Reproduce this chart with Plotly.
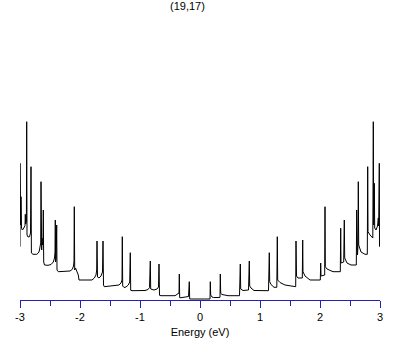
import plotly.graph_objects as go

# Energy (eV) and density of states (arb. units)
energy_neg = [
    -3.0, -3.0, -2.9883, -2.9833, -2.975, -2.9617, -2.945, -2.9167, -2.9117, -2.905,
    -2.8933, -2.8883, -2.8833, -2.8667, -2.8417, -2.825, -2.8167, -2.81, -2.7833, -2.7217,
    -2.695, -2.6783, -2.6667, -2.655, -2.65, -2.645, -2.6383, -2.6333, -2.625, -2.6167,
    -2.6117, -2.605, -2.5917, -2.5333, -2.4833, -2.445, -2.425, -2.4167, -2.4117, -2.4067,
    -2.3967, -2.3883, -2.3833, -2.3617, -2.1667, -2.1283, -2.1083, -2.1, -2.095, -2.0883,
    -2.075, -2.0583, -2.0283, -2.0167, -1.9167, -1.8, -1.7617, -1.7333, -1.7217, -1.7167,
    -1.7083, -1.6833, -1.65, -1.625, -1.6167, -1.6083, -1.595, -1.4167, -1.35, -1.3167,
    -1.3, -1.295, -1.2883, -1.2667, -1.2333, -1.195, -1.1717, -1.1617, -1.155, -1.1333,
    -0.9167, -0.8667, -0.8417, -0.8283, -0.8217, -0.7667, -0.7167, -0.6917, -0.6833, -0.675,
    -0.65, -0.4167, -0.375, -0.35, -0.345, -0.3383, -0.3167, -0.2167, -0.1917, -0.1783,
    -0.1717, 0.0,
]
dos_neg = [
    0.533, 1.367, 0.75, 1.033, 0.72, 0.70, 0.71, 0.745, 0.857, 0.76,
    0.79, 1.783, 0.65, 0.63, 0.633, 0.67, 1.333, 0.47, 0.457, 0.457,
    0.47, 0.49, 0.52, 0.57, 1.183, 0.60, 0.50, 0.62, 0.55, 0.60,
    0.90, 0.38, 0.35, 0.347, 0.355, 0.38, 0.42, 0.48, 0.80, 0.38,
    0.42, 0.75, 0.30, 0.283, 0.29, 0.307, 0.34, 0.39, 0.933, 0.30,
    0.32, 0.29, 0.25, 0.20, 0.197, 0.20, 0.22, 0.25, 0.30, 0.59,
    0.23, 0.22, 0.24, 0.28, 0.59, 0.15, 0.133, 0.14, 0.15, 0.17,
    0.20, 0.633, 0.14, 0.125, 0.13, 0.15, 0.18, 0.473, 0.097, 0.093,
    0.095, 0.105, 0.125, 0.39, 0.11, 0.10, 0.11, 0.13, 0.36, 0.047,
    0.043, 0.043, 0.055, 0.07, 0.26, 0.023, 0.023, 0.027, 0.035, 0.183,
    0.01, 0.01,
]
energy_pos = [
    0.1667, 0.1717, 0.1783, 0.2, 0.225, 0.3, 0.3333, 0.3383, 0.345, 0.3667,
    0.4667, 0.6583, 0.6717, 0.6783, 0.7167, 0.8083, 0.8217, 0.8283, 0.85, 0.9,
    1.1417, 1.155, 1.1617, 1.1833, 1.2333, 1.28, 1.2883, 1.295, 1.3333, 1.4167,
    1.55, 1.595, 1.6, 1.6083, 1.6333, 1.705, 1.7117, 1.7167, 1.75, 1.8,
    1.8333, 2.005, 2.0117, 2.0167, 2.0783, 2.0833, 2.0883, 2.1167, 2.2167, 2.3383,
    2.345, 2.35, 2.395, 2.405, 2.4117, 2.45, 2.5167, 2.605, 2.6117, 2.6167,
    2.625, 2.6333, 2.6383, 2.645, 2.6833, 2.75, 2.7883, 2.795, 2.8, 2.8333,
    2.88, 2.8883, 2.895, 2.905, 2.9117, 2.9333, 2.9583, 2.9717, 2.9783, 2.9883,
    2.9917,
]
dos_pos = [
    0.01, 0.183, 0.05, 0.03, 0.025, 0.025, 0.027, 0.26, 0.067, 0.055,
    0.043, 0.043, 0.36, 0.11, 0.095, 0.10, 0.39, 0.14, 0.12, 0.095,
    0.093, 0.473, 0.183, 0.155, 0.127, 0.127, 0.633, 0.20, 0.175, 0.15,
    0.133, 0.133, 0.59, 0.24, 0.22, 0.22, 0.60, 0.283, 0.24, 0.21,
    0.20, 0.20, 0.37, 0.24, 0.25, 0.933, 0.333, 0.31, 0.283, 0.283,
    0.717, 0.37, 0.38, 0.80, 0.42, 0.37, 0.35, 0.35, 0.90, 0.50,
    0.45, 0.55, 1.183, 0.55, 0.48, 0.457, 0.457, 1.333, 0.683, 0.65,
    0.62, 1.783, 0.75, 1.167, 0.72, 0.70, 0.74, 0.82, 0.74, 1.367,
    0.533,
]

tick_values = [-3, -2, -1, 0, 1, 2, 3]
tick_labels = ["-3", "-2", "-1", "0", "1", "2", "3"]
chart_title = "(19,17)"
x_title = "Energy (eV)"

axis_blue = "#2222b4"
font_family = "Liberation Sans, Arial, sans-serif"

fig = go.Figure()
fig.add_trace(go.Scatter(
    x=energy_neg + energy_pos,
    y=dos_neg + dos_pos,
    mode="lines",
    line=dict(color="black", width=1),
    hoverinfo="skip",
    showlegend=False,
))

fig.update_layout(
    width=409, height=345,
    margin=dict(l=20, r=29, t=20, b=45, autoexpand=False),
    paper_bgcolor="white", plot_bgcolor="white",
    font=dict(family=font_family, size=11, color="black"),
    showlegend=False,
    annotations=[dict(
        text=chart_title, xref="paper", yref="paper",
        x=0.464, y=1.05, xanchor="center", yanchor="middle",
        showarrow=False, font=dict(size=11, color="black", family=font_family),
    )],
)
fig.update_xaxes(
    range=[-3, 3], showgrid=False, zeroline=False, automargin=False,
    showline=True, linecolor=axis_blue, linewidth=1,
    ticks="outside", ticklen=7, tickwidth=1, tickcolor=axis_blue,
    tickvals=tick_values, ticktext=tick_labels,
    tickfont=dict(size=11, color="black", family=font_family),
    minor=dict(dtick=0.5, tick0=0, ticks="outside", ticklen=5, tickwidth=1, tickcolor=axis_blue, showgrid=False),
    title=dict(text=x_title, standoff=6, font=dict(size=11, color="black", family=font_family)),
)
fig.update_yaxes(range=[0, 2.8], visible=False, showgrid=False, zeroline=False, automargin=False)

# remove the browser's default 8px page margin so the figure sits at the window origin
fig.write_html(
    "out.html",
    config={"displayModeBar": False},
    post_script="document.body.style.margin='0';",
)
